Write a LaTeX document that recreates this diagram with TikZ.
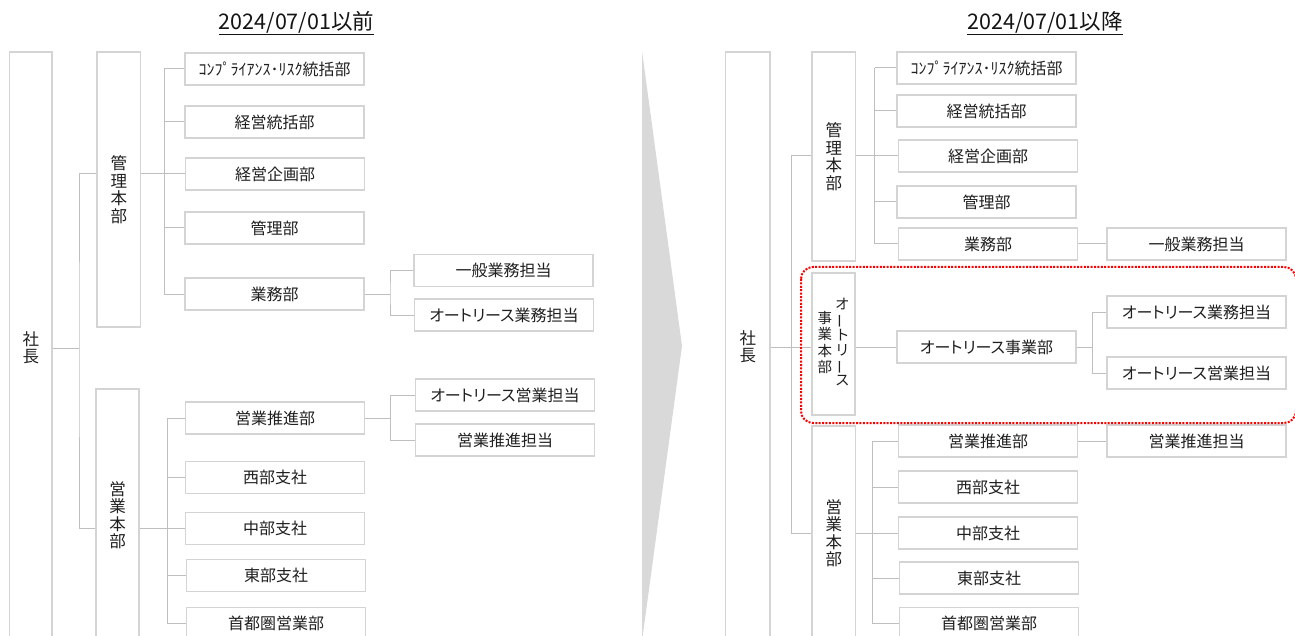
\documentclass[tikz,border=0pt]{standalone}
\usepackage{fontspec}
\usepackage{graphicx}
\usepackage{tikz}
\newfontfamily\jpfont{Noto Sans CJK JP}
\newfontfamily\jpnarrow{Noto Sans CJK JP}[RawFeature=+palt]
\newcommand\tatebar{\rotatebox[origin=c]{90}{ー}}

\begin{document}
\begin{tikzpicture}[x=1pt,y=-1pt,%
% common options for the unit boxes:
unit/.style = {draw=black!17, line width=1.4pt, fill=white, rectangle, align=center,
            minimum width=179pt, minimum height=32pt, inner sep=0,
            font=\jpnarrow\fontsize{16}{19}\selectfont, text=black!88},
% common options for the tall boxes:
tall/.style = {draw=black!17, line width=1.4pt, rectangle, align=center,
            minimum width=43.5pt, inner sep=0,
            font=\jpfont\fontsize{16.5}{17.5}\selectfont, text=black!88},
title/.style = {font=\jpfont\fontsize{21.5}{22}\selectfont, text=black!92, inner sep=0},
link/.style = {draw=black!25, line width=1pt}]
\useasboundingbox (0,0) rectangle (1295,636);
\clip (0,0) rectangle (1295,636);
% the arrow between both charts
\fill[black!15] (642,51) -- (682,346) -- (642,641) -- cycle;
\node[title] (ltitle) at (296.5,23) {\underline{2024/07/01以前}};
\node[title] (rtitle) at (1045,23) {\underline{2024/07/01以降}};
% before
\node[tall, minimum width=42.7pt, minimum height=592pt] (lpres) at (30.8,348) {社\\長};
\node[tall, minimum height=275pt] (lkanri) at (118.75,189.5) {管\\理\\本\\部};
\node[tall, minimum width=43pt, minimum height=252pt] (leigyo) at (117.5,515) {営\\業\\本\\部};
\node[unit] (lcomp) at (274.5,69) {ｺﾝﾌﾟﾗｲｱﾝｽ･ﾘｽｸ統括部};
\node[unit] (ltoukatsu) at (274.5,122) {経営統括部};
\node[unit] (lkikaku) at (275,174) {経営企画部};
\node[unit] (lkanribu) at (274.5,228) {管理部};
\node[unit] (lgyomu) at (274.5,294) {業務部};
\node[unit] (lippan) at (503.5,270.5) {一般業務担当};
\node[unit] (lalgyomu) at (504,315) {オートリース業務担当};
\node[unit] (lsuishin) at (275,418) {営業推進部};
\node[unit] (lseibu) at (275,477.5) {西部支社};
\node[unit] (lchubu) at (275,528.5) {中部支社};
\node[unit] (ltobu) at (276,575.5) {東部支社};
\node[unit] (lshuto) at (276,623.5) {首都圏営業部};
\node[unit] (lalegyo) at (505,395) {オートリース営業担当};
\node[unit] (lsuishintan) at (505,440) {営業推進担当};
\coordinate (lj0) at (79,348);
\coordinate (lj1) at (164,174);
\coordinate (lj2) at (390,294);
\coordinate (lj3) at (167,528);
\coordinate (lj4) at (390.5,418);
\draw[link] (lpres.east) -- (lj0);
\draw[link] (lkanri.west |- lkikaku) -| (lj0) |- (leigyo.west |- lchubu);
\draw[link] (lkanri.east |- lkikaku) -- (lkikaku.west);
\draw[link] (lj1 |- lcomp) -- (lj1 |- lgyomu);
\foreach \n in {lcomp,ltoukatsu,lkanribu,lgyomu}
  \draw[link] (lj1 |- \n) -- (\n.west);
\draw[link] (lgyomu.east) -- (lj2);
\draw[link] (lippan.west) -| (lj2) |- (lalgyomu.west);
\draw[link] (leigyo.east |- lchubu) -- (lchubu.west);
\draw[link] (lj3 |- lsuishin) -- (lj3 |- lshuto);
\foreach \n in {lsuishin,lseibu,ltobu,lshuto}
  \draw[link] (lj3 |- \n) -- (\n.west);
\draw[link] (lsuishin.east) -- (lj4);
\draw[link] (lalegyo.west) -| (lj4) |- (lsuishintan.west);
% after
\node[tall, minimum width=44.4pt, minimum height=590pt] (rpres) at (747.8,347) {社\\長};
\node[tall, minimum height=209pt] (rkanri) at (833.75,156.5) {管\\理\\本\\部};
\node[tall, minimum width=43pt, minimum height=142pt, font=\jpfont\fontsize{14.5}{14.7}\selectfont] (rauto) at (833.5,344)
  {\begin{tabular}{@{}c@{}}事\\業\\本\\部\end{tabular}\hspace{3pt}%
   \begin{tabular}{@{}c@{}}オ\\\tatebar\\ト\\リ\\\tatebar\\ス\end{tabular}};
\node[tall, minimum height=214pt] (reigyo) at (833.75,533) {営\\業\\本\\部};
\node[unit] (rcomp) at (986.5,68) {ｺﾝﾌﾟﾗｲｱﾝｽ･ﾘｽｸ統括部};
\node[unit] (rtoukatsu) at (986.5,111) {経営統括部};
\node[unit] (rkikaku) at (988,156) {経営企画部};
\node[unit] (rkanribu) at (986.5,202) {管理部};
\node[unit] (rgyomu) at (988,244) {業務部};
\node[unit] (rippan) at (1196.5,244) {一般業務担当};
\node[unit] (rautobu) at (986.5,347) {オートリース事業部};
\node[unit] (ralgyomu) at (1196.5,312) {オートリース業務担当};
\node[unit] (ralegyo) at (1196.5,373) {オートリース営業担当};
\node[unit] (rsuishin) at (988,441) {営業推進部};
\node[unit] (rsuishintan) at (1196.5,441) {営業推進担当};
\node[unit] (rseibu) at (988,487) {西部支社};
\node[unit] (rchubu) at (988,533) {中部支社};
\node[unit] (rtobu) at (989,578) {東部支社};
\node[unit] (rshuto) at (989,623.5) {首都圏営業部};
\coordinate (rj0) at (791,347);
\coordinate (rj1) at (874.8,156);
\coordinate (rj2) at (1092,347);
\coordinate (rj3) at (872.7,533);
\draw[link] (rpres.east) -- (rauto.west |- rautobu);
\draw[link] (rkanri.west |- rkikaku) -| (rj0) |- (reigyo.west |- rchubu);
\draw[link] (rkanri.east |- rkikaku) -- (rkikaku.west);
\draw[link] (rj1 |- rcomp) -- (rj1 |- rgyomu);
\foreach \n in {rcomp,rtoukatsu,rkanribu,rgyomu}
  \draw[link] (rj1 |- \n) -- (\n.west);
\draw[link] (rgyomu.east) -- (rippan.west);
\draw[link] (rauto.east |- rautobu) -- (rautobu.west);
\draw[link] (rautobu.east) -- (rj2);
\draw[link] (ralgyomu.west) -| (rj2) |- (ralegyo.west);
\draw[link] (reigyo.east |- rchubu) -- (rchubu.west);
\draw[link] (rj3 |- rsuishin) -- (rj3 |- rshuto);
\foreach \n in {rsuishin,rseibu,rtobu,rshuto}
  \draw[link] (rj3 |- \n) -- (\n.west);
\draw[link] (rsuishin.east) -- (rsuishintan.west);
% the new division
\draw[red, line width=2pt, dash pattern=on 2pt off 1.4pt, rounded corners=12pt] (801,267) rectangle (1296,423);
\end{tikzpicture}
\end{document}
